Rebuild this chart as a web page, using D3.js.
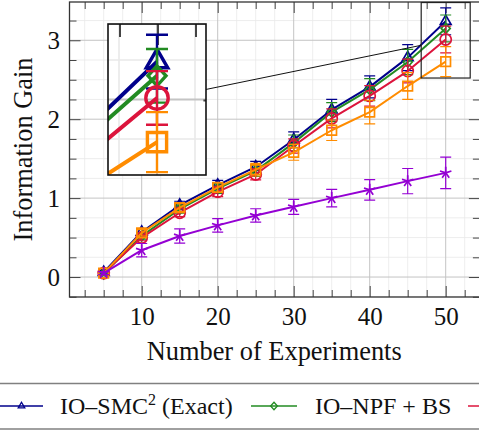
<!DOCTYPE html>
<html>
<head>
<meta charset="utf-8">
<script src="https://cdn.jsdelivr.net/npm/d3@7"></script>
<style>
  body { margin:0; background:#fff; }
  svg { font-family:"Liberation Serif", "DejaVu Serif", serif; }
  text { font-family:"Liberation Serif", "DejaVu Serif", serif; fill:#111; }
</style>
</head>
<body>
<svg id="chart"></svg>
<script>
// data
const experiments = [5,10,15,20,25,30,35,40,45,50];

const exactMean  = [0.06,0.57,0.91,1.165,1.395,1.74,2.12,2.41,2.78,3.24];
const exactErr   = [0.02,0.04,0.05,0.06,0.07,0.10,0.13,0.14,0.165,0.17];
const npfBsMean  = [0.04,0.52,0.86,1.12,1.345,1.70,2.09,2.375,2.725,3.15];
const npfBsErr   = [0.02,0.04,0.05,0.06,0.07,0.10,0.12,0.14,0.16,0.17];
const redMean    = [0.05,0.50,0.815,1.08,1.30,1.66,2.01,2.295,2.61,3.01];
const redErr     = [0.02,0.04,0.05,0.06,0.07,0.09,0.12,0.13,0.15,0.17];
const orangeMean = [0.05,0.56,0.88,1.135,1.36,1.58,1.86,2.09,2.42,2.73];
const orangeErr  = [0.02,0.04,0.05,0.06,0.08,0.10,0.13,0.15,0.17,0.19];
const purpleMean = [0.05,0.34,0.52,0.655,0.78,0.89,1.0,1.105,1.215,1.32];
const purpleErr  = [0.02,0.085,0.09,0.085,0.085,0.095,0.11,0.13,0.16,0.20];

const xTicks = [10,20,30,40,50];
const yTicks = [0,1,2,3];

const series = [
  {name:"exact",  color:"#00008b", mark:"triangle", mean:exactMean,  err:exactErr},
  {name:"npfbs",  color:"#228b22", mark:"diamond",  mean:npfBsMean,  err:npfBsErr},
  {name:"red",    color:"#dc143c", mark:"circle",   mean:redMean,    err:redErr},
  {name:"orange", color:"#ff8c00", mark:"square",   mean:orangeMean, err:orangeErr},
  {name:"purple", color:"#9400d3", mark:"star",     mean:purpleMean, err:purpleErr}
];

const W = 479;
const H = 431;

const margin = {top:2, left:69.5};
const innerW = 410.4;
const innerH = 295;

const x = d3.scaleLinear()
  .domain([0.5,54.5])
  .range([margin.left, margin.left+innerW]);

const y = d3.scaleLinear()
  .domain([-0.253,3.485])
  .range([margin.top+innerH, margin.top]);

const svg = d3.select("#chart")
  .attr("width",W)
  .attr("height",H)
  .attr("viewBox",`0 0 ${W} ${H}`);

svg.append("rect").attr("width",W).attr("height",H).attr("fill","#fff");

const defs = svg.append("defs");

function markPath(type,r){
  if(type==="triangle"){
    const c = r*Math.cos(Math.PI/6);
    return `M0,${-r}L${c},${r/2}L${-c},${r/2}Z`;
  }
  if(type==="diamond"){
    return `M0,${-r}L${r*0.9},0L0,${r}L${-r*0.9},0Z`;
  }
  if(type==="square"){
    return `M${-r},${-r}H${r}V${r}H${-r}Z`;
  }
  if(type==="circle"){
    return `M${r},0A${r},${r} 0 1,1 ${-r},0A${r},${r} 0 1,1 ${r},0Z`;
  }
  // star: five spokes
  let p = "";
  for(let i=0;i<5;i++){
    const a = -Math.PI/2 + i*2*Math.PI/5;
    p += `M0,0L${r*Math.cos(a)},${r*Math.sin(a)}`;
  }
  return p;
}

const markSize = {triangle:6.2, diamond:5, circle:5.6, square:4.8, star:6};

// everything inside the axis, reused by the magnified inset
const plot = defs.append("g").attr("id","plot");

plot.append("rect")
  .attr("x",margin.left).attr("y",margin.top)
  .attr("width",innerW).attr("height",innerH)
  .attr("fill","#fff");

const xMinor = d3.range(2.5,54.5,2.5).filter(v=>v%10!==0);
const yMinor = d3.range(-0.25,3.49,0.25).filter(v=>Math.abs(v-Math.round(v))>1e-6);

plot.append("g")
  .selectAll("line")
  .data(xMinor)
  .join("line")
  .attr("x1",d=>x(d)).attr("x2",d=>x(d))
  .attr("y1",margin.top).attr("y2",margin.top+innerH)
  .attr("stroke","#e9e9e9").attr("stroke-width",0.8);

plot.append("g")
  .selectAll("line")
  .data(yMinor)
  .join("line")
  .attr("x1",margin.left).attr("x2",margin.left+innerW)
  .attr("y1",d=>y(d)).attr("y2",d=>y(d))
  .attr("stroke","#e9e9e9").attr("stroke-width",0.8);

plot.append("g")
  .selectAll("line")
  .data(xTicks)
  .join("line")
  .attr("x1",d=>x(d)).attr("x2",d=>x(d))
  .attr("y1",margin.top).attr("y2",margin.top+innerH)
  .attr("stroke","#c4c4c4").attr("stroke-width",1);

plot.append("g")
  .selectAll("line")
  .data(yTicks)
  .join("line")
  .attr("x1",margin.left).attr("x2",margin.left+innerW)
  .attr("y1",d=>y(d)).attr("y2",d=>y(d))
  .attr("stroke","#c4c4c4").attr("stroke-width",1);

// inward ticks on all four sides
function tickAxis(axis, transform){
  const g = plot.append("g")
    .attr("transform",transform)
    .call(axis);
  g.select(".domain").remove();
  g.attr("font-family",null).attr("font-size",null);
  g.selectAll(".tick line").attr("stroke","#444").attr("stroke-width",1);
  return g;
}

const bottomT = `translate(0,${margin.top+innerH})`;
const topT = `translate(0,${margin.top})`;
const leftT = `translate(${margin.left},0)`;
const rightT = `translate(${margin.left+innerW},0)`;

tickAxis(d3.axisBottom(x).tickValues(xMinor).tickSize(-7).tickFormat(""),bottomT);
tickAxis(d3.axisTop(x).tickValues(xMinor).tickSize(-7).tickFormat(""),topT);
tickAxis(d3.axisLeft(y).tickValues(yMinor).tickSize(-7).tickFormat(""),leftT);
tickAxis(d3.axisRight(y).tickValues(yMinor).tickSize(-7).tickFormat(""),rightT);
tickAxis(d3.axisTop(x).tickValues(xTicks).tickSize(-11).tickFormat(""),topT);
tickAxis(d3.axisRight(y).tickValues(yTicks).tickSize(-11).tickFormat(""),rightT);

const xAxis = tickAxis(
  d3.axisBottom(x).tickValues(xTicks).tickSize(-11).tickPadding(10).tickFormat(d3.format("d")),
  bottomT);
const yAxis = tickAxis(
  d3.axisLeft(y).tickValues(yTicks).tickSize(-11).tickPadding(9.5).tickFormat(d3.format("d")),
  leftT);

[xAxis,yAxis].forEach(g=>{
  g.selectAll(".tick text")
    .style("font-family","\"Liberation Serif\", serif")
    .attr("font-size",25)
    .attr("fill","#111");
});

plot.append("rect")
  .attr("x",margin.left).attr("y",margin.top)
  .attr("width",innerW).attr("height",innerH)
  .attr("fill","none")
  .attr("stroke","#333")
  .attr("stroke-width",1.3);

const line = d3.line()
  .x(d=>x(d.x))
  .y(d=>y(d.v));

series.forEach(s=>{
  const pts = experiments.map((e,i)=>({x:e, v:s.mean[i], e:s.err[i]}));

  const sg = plot.append("g").attr("class","series");

  sg.append("path")
    .datum(pts)
    .attr("d",line)
    .attr("fill","none")
    .attr("stroke",s.color)
    .attr("stroke-width",2)
    .attr("stroke-linejoin","round");

  sg.selectAll(".ebar")
    .data(pts)
    .join("path")
    .attr("d",d=>{
      const cx = x(d.x), lo = y(d.v-d.e), hi = y(d.v+d.e);
      return `M${cx},${lo}V${hi}M${cx-5.5},${hi}H${cx+5.5}M${cx-5.5},${lo}H${cx+5.5}`;
    })
    .attr("fill","none")
    .attr("stroke",s.color)
    .attr("stroke-width",1.2);

  sg.selectAll(".mark")
    .data(pts)
    .join("path")
    .attr("transform",d=>`translate(${x(d.x)},${y(d.v)})`)
    .attr("d",markPath(s.mark,markSize[s.mark]))
    .attr("fill","none")
    .attr("stroke",s.color)
    .attr("stroke-width",1.7)
    .attr("stroke-linejoin","miter");
});

svg.append("use").attr("href","#plot");

// spy inset: magnify 2x around (50, 3.0)
const spyX = 50, spyY = 3.0, mag = 2;
const inset = {x:108, y:24, w:98, h:151};
const cx0 = x(spyX), cy0 = y(spyY);
const ix0 = inset.x+inset.w/2, iy0 = inset.y+inset.h/2;
const rw = inset.w/mag, rh = inset.h/mag;

defs.append("clipPath").attr("id","insetClip")
  .append("rect")
  .attr("x",inset.x).attr("y",inset.y)
  .attr("width",inset.w).attr("height",inset.h);

svg.append("rect")
  .attr("x",cx0-rw/2).attr("y",cy0-rh/2)
  .attr("width",rw).attr("height",rh)
  .attr("fill","none")
  .attr("stroke","#222")
  .attr("stroke-width",1.2);

svg.append("g")
  .attr("clip-path","url(#insetClip)")
  .append("use")
  .attr("href","#plot")
  .attr("transform",`translate(${ix0},${iy0}) scale(${mag}) translate(${-cx0},${-cy0})`);

svg.append("rect")
  .attr("x",inset.x).attr("y",inset.y)
  .attr("width",inset.w).attr("height",inset.h)
  .attr("fill","none")
  .attr("stroke","#111")
  .attr("stroke-width",1.6);

// connection between the two rectangle centres, cut at their borders
const dx = cx0-ix0, dy = cy0-iy0;
const tA = Math.min((inset.w/2)/Math.abs(dx),(inset.h/2)/Math.abs(dy));
const tB = 1-Math.min((rw/2)/Math.abs(dx),(rh/2)/Math.abs(dy));
svg.append("line")
  .attr("x1",ix0+dx*tA).attr("y1",iy0+dy*tA)
  .attr("x2",ix0+dx*tB).attr("y2",iy0+dy*tB)
  .attr("stroke","#111")
  .attr("stroke-width",1);

// axis labels
svg.append("text")
  .attr("x",margin.left+innerW/2-0.5)
  .attr("y",360)
  .attr("text-anchor","middle")
  .attr("font-size",26.4)
  .text("Number of Experiments");

svg.append("text")
  .attr("transform",`translate(32,${margin.top+innerH/2}) rotate(-90)`)
  .attr("text-anchor","middle")
  .attr("font-size",26.4)
  .text("Information Gain");

// legend
const legendY = 406;
const lg = svg.append("g");

lg.append("line")
  .attr("x1",-10).attr("x2",W+10)
  .attr("y1",383.5).attr("y2",383.5)
  .attr("stroke","#808080").attr("stroke-width",1.3);
lg.append("line")
  .attr("x1",-10).attr("x2",W+10)
  .attr("y1",429).attr("y2",429)
  .attr("stroke","#808080").attr("stroke-width",1.3);

const legendItems = [
  {s:series[0], x1:-4, x2:43},
  {s:series[1], x1:251, x2:297},
  {s:series[2], x1:468, x2:515}
];

legendItems.forEach(it=>{
  lg.append("line")
    .attr("x1",it.x1).attr("x2",it.x2)
    .attr("y1",legendY).attr("y2",legendY)
    .attr("stroke",it.s.color).attr("stroke-width",1.4);
  lg.append("path")
    .attr("transform",`translate(${(it.x1+it.x2)/2+(it.x1<0?2:0)},${legendY})`)
    .attr("d",markPath(it.s.mark,3.8))
    .attr("fill","none")
    .attr("stroke",it.s.color)
    .attr("stroke-width",1.3);
});

const t1 = lg.append("text")
  .attr("x",60).attr("y",414)
  .attr("font-size",24);
t1.append("tspan").text("IO–SMC");
t1.append("tspan").attr("font-size",16).attr("dy",-9).text("2");
t1.append("tspan").attr("dy",9).text(" (Exact)");

lg.append("text")
  .attr("x",315).attr("y",414)
  .attr("font-size",24)
  .text("IO–NPF + BS");
</script>
</body>
</html>
